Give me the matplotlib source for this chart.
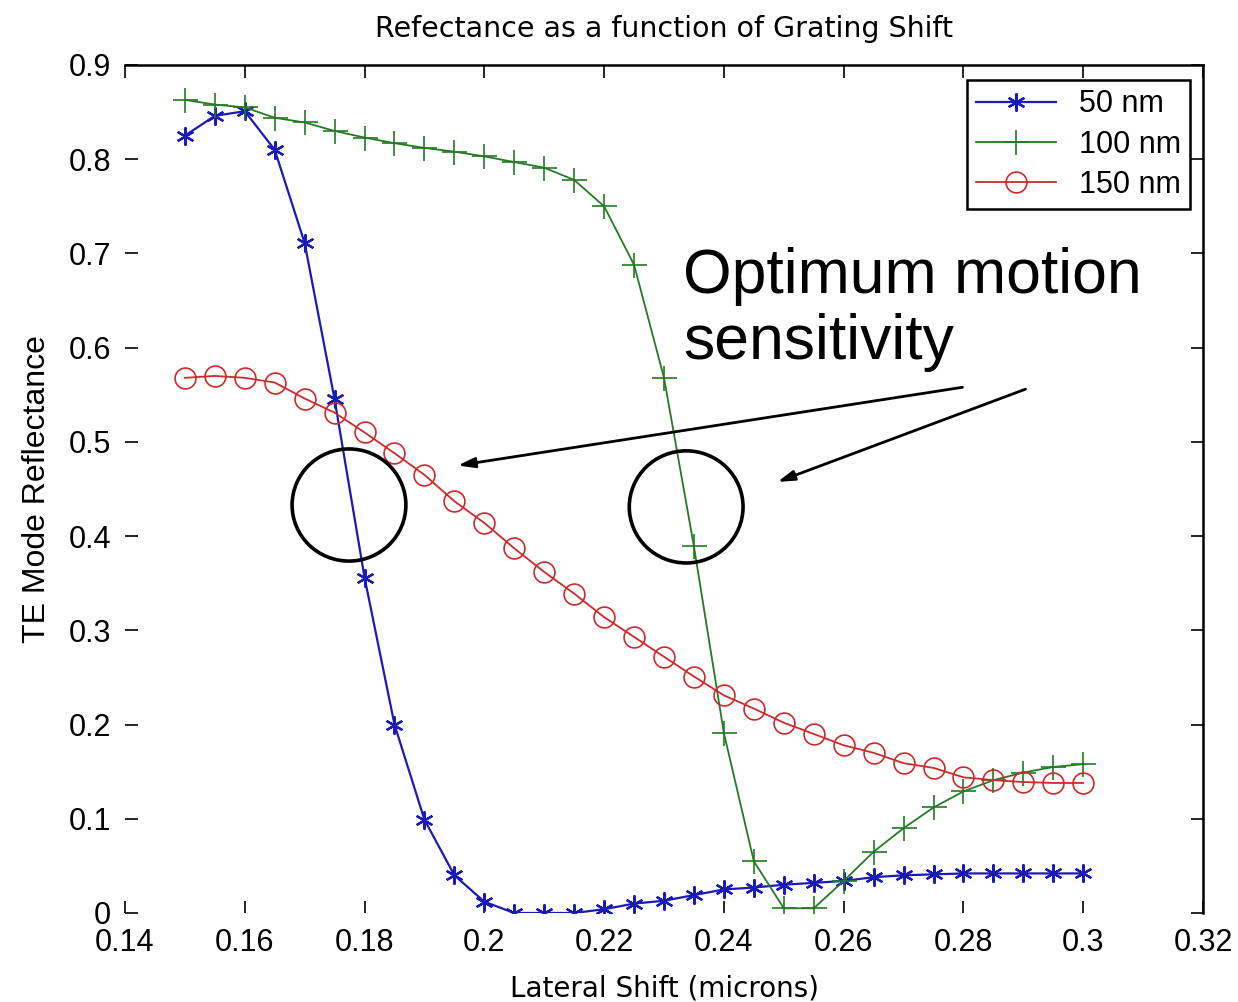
import matplotlib
matplotlib.use('Agg')  # no display
import matplotlib.pyplot as plt
import matplotlib.patches as patches

# lateral shift in microns, 0.150 .. 0.300 in 0.005 steps
shift = [0.150, 0.155, 0.160, 0.165, 0.170, 0.175, 0.180, 0.185, 0.190, 0.195,
         0.200, 0.205, 0.210, 0.215, 0.220, 0.225, 0.230, 0.235, 0.240, 0.245,
         0.250, 0.255, 0.260, 0.265, 0.270, 0.275, 0.280, 0.285, 0.290, 0.295,
         0.300]

r50 = [0.825, 0.846, 0.851, 0.810, 0.711, 0.545, 0.356, 0.200, 0.099, 0.040,
       0.012, 0.000, 0.000, 0.000, 0.004, 0.010, 0.013, 0.019, 0.025, 0.027,
       0.030, 0.032, 0.034, 0.038, 0.040, 0.041, 0.042, 0.042, 0.042, 0.042,
       0.042]

r100 = [0.863, 0.858, 0.855, 0.844, 0.839, 0.830, 0.823, 0.817, 0.812, 0.808,
        0.803, 0.797, 0.791, 0.778, 0.750, 0.688, 0.568, 0.389, 0.191, 0.055,
        0.005, 0.005, 0.034, 0.065, 0.090, 0.112, 0.129, 0.141, 0.149, 0.155,
        0.158]

r150 = [0.568, 0.570, 0.568, 0.563, 0.546, 0.531, 0.510, 0.488, 0.465, 0.437,
        0.414, 0.387, 0.362, 0.339, 0.314, 0.293, 0.272, 0.251, 0.231, 0.217,
        0.202, 0.190, 0.178, 0.170, 0.159, 0.154, 0.144, 0.141, 0.139, 0.138,
        0.138]

labels = ['50 nm', '100 nm', '150 nm']

xticks = [0.14, 0.16, 0.18, 0.20, 0.22, 0.24, 0.26, 0.28, 0.30, 0.32]
xticklabels = ['0.14', '0.16', '0.18', '0.2', '0.22', '0.24', '0.26', '0.28', '0.3', '0.32']
yticks = [0, 0.1, 0.2, 0.3, 0.4, 0.5, 0.6, 0.7, 0.8, 0.9]
yticklabels = ['0', '0.1', '0.2', '0.3', '0.4', '0.5', '0.6', '0.7', '0.8', '0.9']

plt.rcParams['font.family'] = ['Liberation Sans', 'DejaVu Sans']

fig = plt.figure(figsize=(12.38, 10.02), dpi=100)
ax = fig.add_axes([125 / 1238, 89 / 1002, 1078 / 1238, 848 / 1002])

ax.plot(shift, r50, color='#1a1ab8', lw=1.6, marker=(6, 2, 0), ms=13, mew=1.6,
        label=labels[0])
ax.plot(shift, r100, color='#237a23', lw=1.3, marker='+', ms=18, mew=1.2,
        label=labels[1])
ax.plot(shift, r150, color='#cc2a2a', lw=1.3, marker='o', ms=15, mew=1.2,
        mfc='none', label=labels[2])

ax.set_xlim(0.14, 0.32)
ax.set_ylim(0, 0.9)
ax.set_xticks(xticks)
ax.set_xticklabels(xticklabels)
ax.set_yticks(yticks)
ax.set_yticklabels(yticklabels)
ax.tick_params(direction='in', length=9, width=1.2, labelsize=22,
               top=True, right=True)
ax.tick_params(axis='x', pad=11)
ax.tick_params(axis='y', pad=10)

# the reference only shows the top and right box lines
ax.spines['left'].set_visible(False)
ax.spines['bottom'].set_visible(False)
ax.spines['top'].set_linewidth(1.8)
ax.spines['right'].set_linewidth(1.8)

ax.set_title('Refectance as a function of Grating Shift', fontsize=20.5,
             family='DejaVu Sans', pad=20)
ax.set_xlabel('Lateral Shift (microns)', fontsize=20, family='DejaVu Sans',
              labelpad=12)
ax.set_ylabel('TE Mode Reflectance', fontsize=23, labelpad=12)

leg = ax.legend(loc='upper right', bbox_to_anchor=(0.988, 0.982), fontsize=22,
                fancybox=False, framealpha=1, edgecolor='black',
                borderpad=0.3, labelspacing=0.33, handlelength=2.6,
                handletextpad=0.75, borderaxespad=0)
leg.get_frame().set_linewidth(1.8)

# annotation: circles, arrows and text
for cx, cy in [(0.1774, 0.433), (0.2337, 0.431)]:
    ax.add_patch(patches.Ellipse((cx, cy), 0.0190, 0.119, fill=False,
                                 ec='black', lw=2.6, zorder=5))

ax.annotate('', xy=(0.1951, 0.4745), xytext=(0.2803, 0.5584),
            arrowprops=dict(arrowstyle='-|>,head_length=1.0,head_width=0.3',
                            color='black', lw=2))
ax.annotate('', xy=(0.2485, 0.4565), xytext=(0.2908, 0.557),
            arrowprops=dict(arrowstyle='-|>,head_length=1.0,head_width=0.3',
                            color='black', lw=2))

ax.text(0.2332, 0.707, 'Optimum motion\nsensitivity', fontsize=45,
        va='top', ha='left', linespacing=1.15)

plt.savefig('out.png', dpi=100)
plt.close()
